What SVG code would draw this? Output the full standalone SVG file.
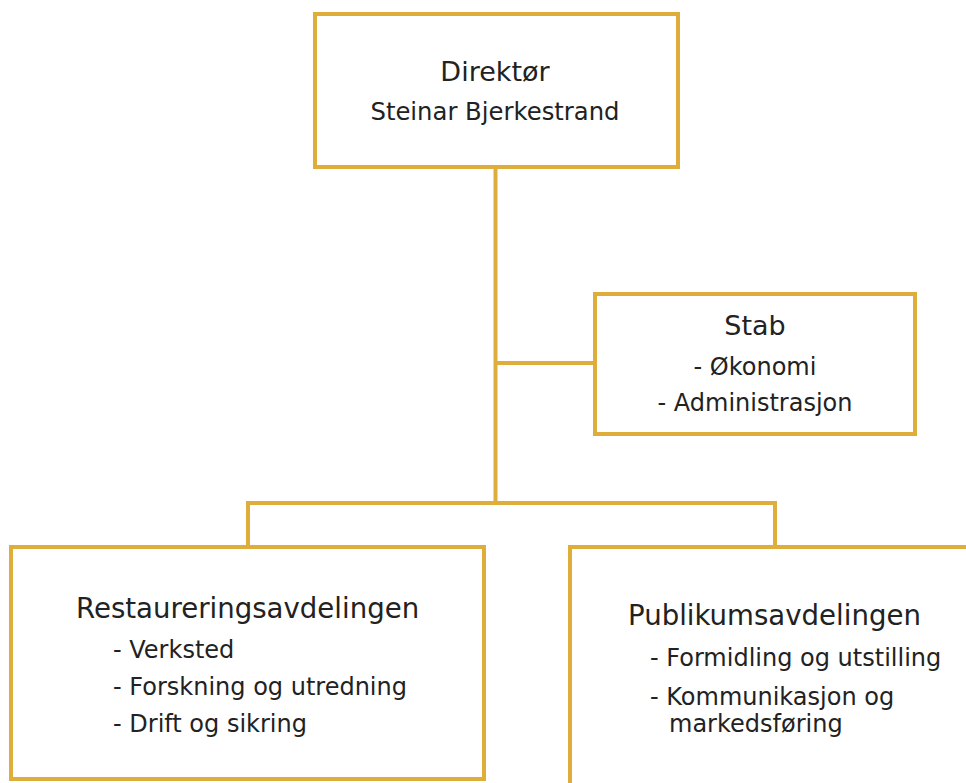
<svg xmlns="http://www.w3.org/2000/svg" width="966" height="783" viewBox="0 0 966 783">
<style>
.box{fill:#fff;stroke:#DFAE3A;stroke-width:4}
.ln{fill:none;stroke:#DFAE3A;stroke-width:4}
text{font-family:"DejaVu Sans","Liberation Sans",sans-serif;fill:#222}
.h{font-size:27.6px}
.i{font-size:24px}
.c{text-anchor:middle}
</style>
<rect width="966" height="783" fill="#fff"/>
<g id="connectors">
<path class="ln" d="M495.5,167 V503"/>
<path class="ln" d="M495.5,363 H595"/>
<path class="ln" d="M248,547 V503 H775 V547"/>
</g>
<g id="direktor">
<rect class="box" x="315" y="14" width="363" height="153"/>
<text class="c" x="495" y="81" font-size="27">Direktør</text>
<text class="c" x="495" y="120" font-size="24.3">Steinar Bjerkestrand</text>
</g>
<g id="stab">
<rect class="box" x="595" y="294" width="320" height="140"/>
<text class="c" x="755" y="335" font-size="27">Stab</text>
<text class="i c" x="755" y="375">- Økonomi</text>
<text class="i c" x="755" y="411">- Administrasjon</text>
</g>
<g id="restaurering">
<rect class="box" x="11" y="547" width="473" height="232"/>
<text class="h" x="76" y="618">Restaureringsavdelingen</text>
<text class="i" x="113" y="658">- Verksted</text>
<text class="i" x="113" y="695">- Forskning og utredning</text>
<text class="i" x="113" y="732">- Drift og sikring</text>
</g>
<g id="publikum">
<rect class="box" x="570" y="547" width="420" height="260"/>
<text class="h" x="628" y="625">Publikumsavdelingen</text>
<text class="i" x="650" y="666">- Formidling og utstilling</text>
<text class="i" x="650" y="705">- Kommunikasjon og</text>
<text class="i" x="669" y="732">markedsføring</text>
</g>
</svg>
